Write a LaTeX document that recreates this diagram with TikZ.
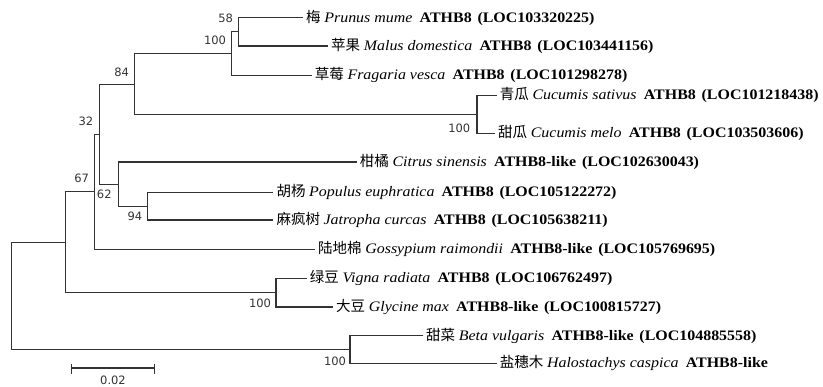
\documentclass[tikz,border=0pt]{standalone}
\usepackage{fontspec}
\setmainfont{Liberation Serif}
\newfontfamily\cjk{Noto Sans CJK SC}
\newfontfamily\numfont{DejaVu Sans}
\newfontfamily\spfont{Liberation Serif}[FakeStretch=1.1]
\newfontfamily\genefont{Liberation Serif}[FakeStretch=1.1]
\usetikzlibrary{positioning,calc}

% one leaf label: Chinese name, species, gene, locus
\newcommand{\taxon}[4]{{\cjk #1} {\spfont\itshape #2}\hspace{0.5em}{\genefont\bfseries #3\hspace{0.4em}#4}}

\begin{document}
\begin{tikzpicture}[
  x=1pt, y=-1pt,
  branch/.style={
    line width=1.1pt, black!80
  },
  leaf/.style={
    anchor=west, inner sep=3pt,
    font=\fontsize{14.5}{16}\selectfont
  },
  boot/.style={
    font=\numfont\fontsize{11.5}{13}\selectfont,
    text=black!80, inner sep=0pt
  }
]
\useasboundingbox (0,0) rectangle (823,387);

% ==================== LEAVES ====================

\node (mume) [leaf] at (303,17.7)
  {\taxon{梅}{Prunus mume}{ATHB8}{(LOC103320225)}};
\node (malus) [leaf] at (328,46)
  {\taxon{苹果}{Malus domestica}{ATHB8}{(LOC103441156)}};
\node (fragaria) [leaf] at (311.7,75.3)
  {\taxon{草莓}{Fragaria vesca}{ATHB8}{(LOC101298278)}};
\node (sativus) [leaf] at (496.7,95.3)
  {\taxon{青瓜}{Cucumis sativus}{ATHB8}{(LOC101218438)}};
\node (melo) [leaf] at (495,133.3)
  {\taxon{甜瓜}{Cucumis melo}{ATHB8}{(LOC103503606)}};
\node (citrus) [leaf] at (356.7,162)
  {\taxon{柑橘}{Citrus sinensis}{ATHB8-like}{(LOC102630043)}};
\node (populus) [leaf] at (273.3,192.3)
  {\taxon{胡杨}{Populus euphratica}{ATHB8}{(LOC105122272)}};
\node (jatropha) [leaf] at (273.3,220)
  {\taxon{麻疯树}{Jatropha curcas}{ATHB8}{(LOC105638211)}};
\node (gossypium) [leaf] at (315,249.3)
  {\taxon{陆地棉}{Gossypium raimondii}{ATHB8-like}{(LOC105769695)}};
\node (vigna) [leaf] at (306.7,278.3)
  {\taxon{绿豆}{Vigna radiata}{ATHB8}{(LOC106762497)}};
\node (glycine) [leaf] at (333,307)
  {\taxon{大豆}{Glycine max}{ATHB8-like}{(LOC100815727)}};
\node (beta) [leaf] at (423,335.7)
  {\taxon{甜菜}{Beta vulgaris}{ATHB8-like}{(LOC104885558)}};
\node (halo) [leaf] at (496.7,363.3)
  {\taxon{盐穗木}{Halostachys caspica}{ATHB8-like}{}};

% ==================== INNER NODES ====================

\coordinate (n58) at (238.7,31.9);
\coordinate (nRos) at (231.7,53.6);
\coordinate (nCuc) at (477,114.3);
\coordinate (n84) at (134.3,84.8);
\coordinate (n94) at (147.3,206.2);
\coordinate (n62) at (118.3,184.1);
\coordinate (n32) at (99.3,134.5);
\coordinate (nMal) at (94.3,191.9);
\coordinate (nFab) at (276,292.7);
\coordinate (n67) at (65.7,242.3);
\coordinate (nAma) at (350,349.5);
\coordinate (root) at (11.7,295.9);

% ==================== BRANCHES ====================

\draw [branch] (n58) |- (mume.west);
\draw [branch] (n58) |- (malus.west);
\draw [branch] (nRos) |- (n58);
\draw [branch] (nRos) |- (fragaria.west);
\draw [branch] (nCuc) |- (sativus.west);
\draw [branch] (nCuc) |- (melo.west);
\draw [branch] (n84) |- (nRos);
\draw [branch] (n84) |- (nCuc);
\draw [branch] (n94) |- (populus.west);
\draw [branch] (n94) |- (jatropha.west);
\draw [branch] (n62) |- (citrus.west);
\draw [branch] (n62) |- (n94);
\draw [branch] (n32) |- (n84);
\draw [branch] (n32) |- (n62);
\draw [branch] (nMal) |- (n32);
\draw [branch] (nMal) |- (gossypium.west);
\draw [branch] (nFab) |- (vigna.west);
\draw [branch] (nFab) |- (glycine.west);
\draw [branch] (n67) |- (nMal);
\draw [branch] (n67) |- (nFab);
\draw [branch] (nAma) |- (beta.west);
\draw [branch] (nAma) |- (halo.west);
\draw [branch] (root) |- (n67);
\draw [branch] (root) |- (nAma);

% ==================== BOOTSTRAP VALUES ====================

\node (b58) [boot] at (225.7,18.3) {58};
\node (bRos) [boot] at (215,40) {100};
\node (b84) [boot] at (121.7,72.3) {84};
\node (bCuc) [boot] at (459.3,128.7) {100};
\node (b32) [boot] at (86,121.7) {32};
\node (b67) [boot] at (81.7,178.3) {67};
\node (b62) [boot] at (104.3,194) {62};
\node (b94) [boot] at (135,216.7) {94};
\node (bFab) [boot] at (260,303.3) {100};
\node (bAma) [boot] at (335,361.7) {100};

% ==================== SCALE BAR ====================

\coordinate (sbL) at (71.7,368);
\coordinate (sbR) at (154.3,368);
\draw [branch] (sbL) -- (sbR);
\draw [branch] ([yshift=4pt]sbL) -- ([yshift=-6pt]sbL);
\draw [branch] ([yshift=4pt]sbR) -- ([yshift=-6pt]sbR);
\node (sbText) [boot] at (113,380.5) {0.02};

\end{tikzpicture}
\end{document}
